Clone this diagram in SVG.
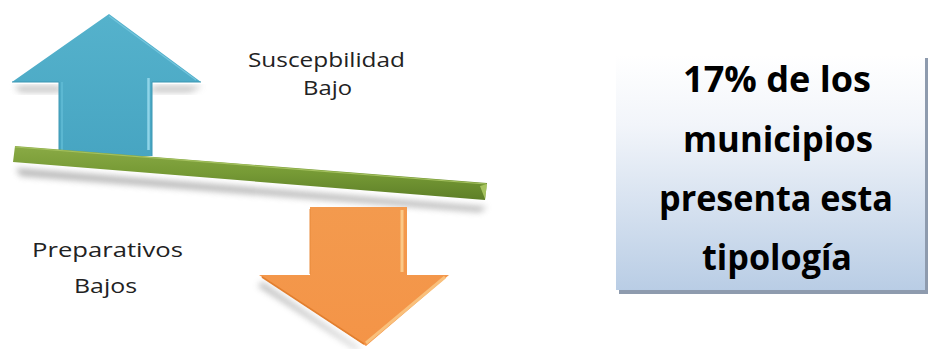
<svg xmlns="http://www.w3.org/2000/svg" width="930" height="349" viewBox="0 0 930 349">
  <defs>
    <style>
      .lbl { font-family: "Open Sans", "Liberation Sans", sans-serif; font-size: 20px; fill: #222; }
      .big { font-family: "Open Sans", "Liberation Sans", sans-serif; font-size: 35px; font-weight: bold; fill: #000; text-anchor: middle; }
    </style>
    <filter id="blur" x="-20%" y="-20%" width="140%" height="160%">
      <feGaussianBlur stdDeviation="3"/>
    </filter>
    <linearGradient id="blueG" x1="0" y1="0" x2="0" y2="1">
      <stop offset="0" stop-color="#55B2CC"/>
      <stop offset="1" stop-color="#47A5C2"/>
    </linearGradient>
    <linearGradient id="orangeG" x1="0" y1="0" x2="0" y2="1">
      <stop offset="0" stop-color="#F39A4E"/>
      <stop offset="1" stop-color="#F49447"/>
    </linearGradient>
    <linearGradient id="greenG" x1="0" y1="0" x2="0" y2="1">
      <stop offset="0" stop-color="#8AAA45"/>
      <stop offset="0.5" stop-color="#769A35"/>
      <stop offset="1" stop-color="#5E7F28"/>
    </linearGradient>
    <linearGradient id="boxG" x1="0" y1="0" x2="0" y2="1">
      <stop offset="0" stop-color="#FFFFFF"/>
      <stop offset="0.3" stop-color="#F2F5FA"/>
      <stop offset="1" stop-color="#B9CDE5"/>
    </linearGradient>
  </defs>

  <!-- Blue up arrow -->
  <g id="up-arrow">
    <polygon points="14,86 60,86 60,90 153,90 153,86 203,86 190,92 20,92" fill="#999" opacity="0.6" filter="url(#blur)"/>
    <polygon points="109,14 201,82 152,82 152,156 59,156 59,82 12,82" fill="url(#blueG)"/>
    <polyline points="12,82 59,82 59,156" fill="none" stroke="#3D97B3" stroke-width="1"/>
    <polyline points="152,156 152,82 201,82" fill="none" stroke="#3D97B3" stroke-width="1"/>
    <line x1="148.5" y1="78" x2="148.5" y2="150" stroke="#8FD4E8" stroke-width="2.5"/>
    <line x1="62" y1="82" x2="62" y2="150" stroke="#62BDD6" stroke-width="1.5"/>
    <line x1="109" y1="16" x2="196" y2="80" stroke="#72C4DC" stroke-width="1.2"/>
  </g>

  <!-- Green bar -->
  <g id="bar">
    <polygon points="16,168 487,207 480,212 20,176" fill="#888" opacity="0.6" filter="url(#blur)"/>
    <polygon points="15,146 487,183 485,200 13,162" fill="url(#greenG)"/>
    <line x1="15" y1="147" x2="486" y2="184" stroke="#A4C15F" stroke-width="1.2"/>
    <polygon points="480,186 487,184 485,199" fill="#B5D16C" opacity="0.8"/>
  </g>

  <!-- Orange down arrow -->
  <g id="down-arrow">
    <polygon points="262,282 360,349 356,349 258,286" fill="#999" opacity="0.7" filter="url(#blur)"/>
    <polygon points="310,207 407,207 407,275 449,275 366,346 259,275 310,275" fill="url(#orangeG)"/>
    <line x1="402" y1="210" x2="402" y2="272" stroke="#FBC887" stroke-width="3"/>
    <line x1="366" y1="343" x2="445" y2="277" stroke="#F9C07C" stroke-width="3"/>
    <line x1="262" y1="277" x2="364" y2="344" stroke="#E27F2F" stroke-width="1.5"/>
    <line x1="310" y1="209" x2="310" y2="274" stroke="#E88A3B" stroke-width="1"/>
  </g>

  <!-- Labels -->
  <g id="label-susceptibilidad">
    <text class="lbl" x="248" y="67" textLength="157" lengthAdjust="spacingAndGlyphs">Suscepbilidad</text>
    <text class="lbl" x="303" y="95" textLength="49" lengthAdjust="spacingAndGlyphs">Bajo</text>
  </g>
  <g id="label-preparativos">
    <text class="lbl" x="32" y="257" textLength="151" lengthAdjust="spacingAndGlyphs">Preparativos</text>
    <text class="lbl" x="74" y="293" textLength="63" lengthAdjust="spacingAndGlyphs">Bajos</text>
  </g>

  <!-- Info box -->
  <g id="info-box">
    <rect x="619" y="58" width="309" height="236" fill="#8E9BAE"/>
    <rect x="616" y="55" width="309" height="235" fill="url(#boxG)"/>
    <text class="big" x="777" y="92" textLength="188" lengthAdjust="spacingAndGlyphs">17% de los</text>
    <text class="big" x="778" y="152" textLength="190" lengthAdjust="spacingAndGlyphs">municipios</text>
    <text class="big" x="776" y="211" textLength="234" lengthAdjust="spacingAndGlyphs">presenta esta</text>
    <text class="big" x="777" y="270" textLength="150" lengthAdjust="spacingAndGlyphs">tipología</text>
  </g>
</svg>
